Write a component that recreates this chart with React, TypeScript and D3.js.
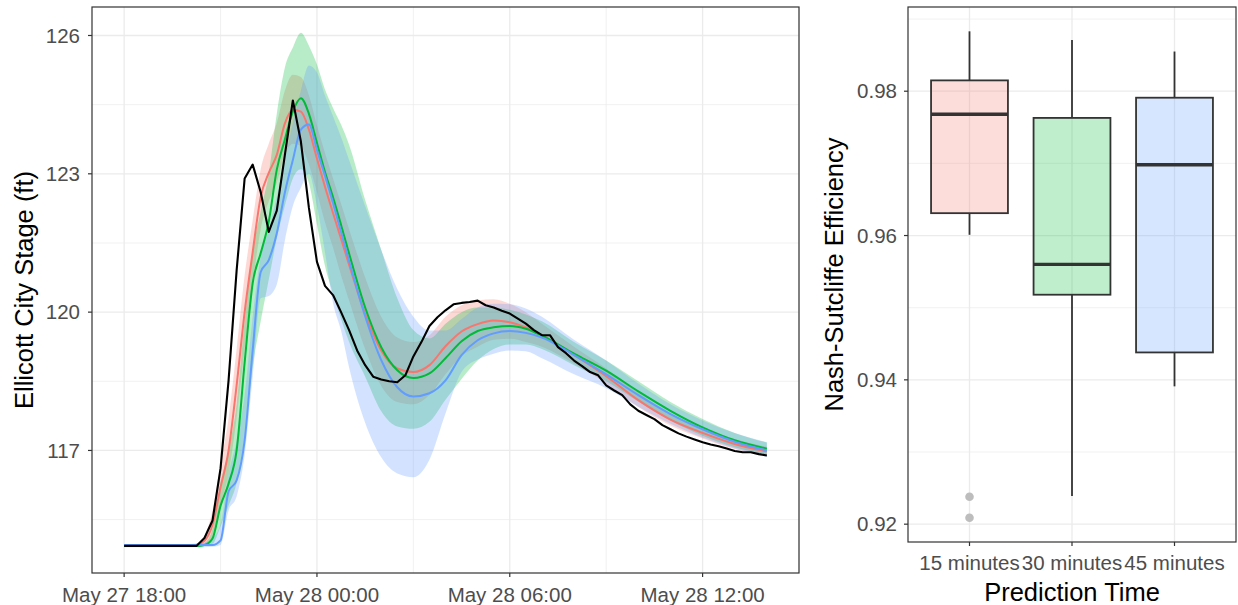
import React from "react";
import * as d3 from "d3";

// hours after May 27 18:00
const start = new Date(2018, 4, 27, 18, 0);
const toDate = (h: number) => new Date(start.getTime() + h * 3600000);

const obsHours = d3.range(0, 20.001, 0.25);
const observed = [
  114.93, 114.93, 114.93, 114.93, 114.93, 114.93, 114.93, 114.93, 114.93, 114.93,
  115.1, 115.48, 116.61, 118.52, 120.9, 122.9, 123.2, 122.6, 121.74, 122.2,
  123.4, 124.59, 123.7, 122.26, 121.09, 120.57, 120.37, 120.0, 119.61, 119.17,
  118.85, 118.6, 118.54, 118.5, 118.48, 118.63, 119.04, 119.35, 119.7, 119.89,
  120.04, 120.17, 120.2, 120.22, 120.25, 120.15, 120.1, 120.03, 119.97, 119.86,
  119.75, 119.61, 119.5, 119.5, 119.24, 119.11, 118.95, 118.83, 118.7, 118.63,
  118.41, 118.3, 118.2, 118.0, 117.86, 117.77, 117.68, 117.55, 117.46, 117.37,
  117.3, 117.24, 117.18, 117.13, 117.09, 117.04, 116.99, 116.96, 116.96, 116.92,
  116.89,
];

const modelHours = [
  0, 2, 2.25, 2.5, 2.75, 3, 3.25, 3.5, 3.75, 4, 4.25, 4.5, 4.75, 5, 5.25, 5.5, 5.75,
  6, 6.25, 6.5, 6.75, 7, 7.5, 8, 8.5, 9, 9.5, 10, 10.5, 11, 11.5, 12, 12.5, 13,
  14, 15, 16, 17, 18, 19, 20,
];

const pred15 = [
  114.93, 114.93, 114.95, 115.04, 115.39, 116.2, 117.0, 118.41, 120.0, 121.3, 122.5,
  123.02, 123.41, 124.09, 124.39, 124.35, 123.96, 123.33, 122.72, 122.15, 121.59,
  121.03, 119.96, 119.17, 118.78, 118.7, 118.85, 119.26, 119.58, 119.74, 119.82,
  119.78, 119.67, 119.5, 119.07, 118.61, 118.09, 117.67, 117.38, 117.14, 116.98,
];
const pred15Hi = [
  114.95, 114.95, 114.98, 115.15, 115.7, 116.7, 117.7, 119.2, 120.8, 122.0, 123.1,
  123.65, 124.1, 124.8, 125.15, 125.1, 124.7, 124.05, 123.45, 122.9, 122.35, 121.8,
  120.75, 119.9, 119.45, 119.35, 119.5, 119.9, 120.15, 120.25, 120.28, 120.18, 120.0,
  119.75, 119.25, 118.78, 118.25, 117.8, 117.5, 117.25, 117.08,
];
const pred15Lo = [
  114.91, 114.91, 114.92, 114.95, 115.1, 115.8, 116.5, 117.7, 119.2, 120.6, 121.8,
  122.4, 122.8, 123.4, 123.65, 123.6, 123.2, 122.6, 121.95, 121.4, 120.8, 120.25,
  119.2, 118.4, 118.05, 118.0, 118.2, 118.65, 119.05, 119.25, 119.4, 119.42, 119.35,
  119.25, 118.88, 118.45, 117.94, 117.54, 117.26, 117.03, 116.88,
];

const pred30 = [
  114.93, 114.93, 114.93, 114.95, 115.09, 115.8, 116.28, 117.0, 118.91, 120.63, 121.28,
  121.96, 123.09, 123.74, 124.35, 124.64, 124.3, 123.67, 123.04, 122.49, 121.89,
  121.27, 120.1, 119.24, 118.74, 118.57, 118.67, 119.0, 119.37, 119.59, 119.67, 119.7,
  119.64, 119.49, 119.1, 118.73, 118.28, 117.86, 117.5, 117.22, 117.04,
];
const pred30Hi = [
  114.95, 114.95, 114.96, 115.0, 115.3, 116.3, 117.0, 118.0, 119.8, 121.3, 122.2,
  123.0, 124.3, 125.3, 125.74, 126.06, 125.78, 125.37, 124.83, 124.43, 124.07, 123.63,
  122.43, 121.35, 120.3, 119.61, 119.43, 119.75, 120.0, 120.1, 120.1, 120.05, 119.95,
  119.8, 119.35, 118.95, 118.5, 118.05, 117.68, 117.38, 117.17,
];
const pred30Lo = [
  114.91, 114.91, 114.91, 114.93, 114.97, 115.35, 115.8, 116.3, 117.3, 118.8, 119.8,
  120.7, 121.6, 122.3, 122.9, 123.1, 122.8, 121.9, 121.0, 120.4, 119.85, 119.35,
  118.6, 117.85, 117.52, 117.47, 117.62, 118.1, 118.55, 118.95, 119.2, 119.3, 119.3,
  119.2, 118.85, 118.5, 118.06, 117.65, 117.32, 117.07, 116.91,
];

const pred45 = [
  114.95, 114.95, 114.95, 114.95, 114.95, 115.05, 116.11, 116.35, 117.22, 119.17, 120.87,
  121.13, 121.71, 122.59, 123.3, 123.96, 124.07, 123.52, 122.96, 122.37, 121.74,
  121.11, 119.91, 118.96, 118.37, 118.17, 118.24, 118.52, 119.07, 119.39, 119.54,
  119.59, 119.55, 119.45, 119.07, 118.65, 118.2, 117.79, 117.46, 117.19, 117.0,
];
const pred45Hi = [
  114.97, 114.97, 114.98, 115.0, 115.1, 115.4, 116.5, 117.2, 118.2, 119.9, 121.2,
  121.8, 122.5, 123.3, 124.1, 124.8, 125.35, 125.2, 124.7, 124.25, 123.8, 123.3,
  122.3, 121.35, 120.5, 119.9, 119.6, 119.6, 119.85, 120.1, 120.18, 120.17, 120.08,
  119.9, 119.4, 118.95, 118.45, 118.0, 117.65, 117.38, 117.18,
];
const pred45Lo = [
  114.9, 114.9, 114.9, 114.9, 114.91, 114.95, 115.7, 116.0, 116.9, 118.6, 120.3,
  120.35, 120.6, 121.55, 122.3, 122.7, 123.0, 122.3, 121.3, 120.2, 119.6, 118.8,
  117.6, 116.85, 116.5, 116.42, 116.8, 117.8, 118.7, 118.97, 119.1, 119.17, 119.15,
  119.0, 118.65, 118.35, 117.95, 117.58, 117.28, 117.04, 116.86,
];

const stageTicks = [117, 120, 123, 126];
const stageMinor = [115.5, 118.5, 121.5, 124.5];
const timeTicks = [0, 6, 12, 18];
const timeMinor = [3, 9, 15, 21];

// boxplot of Nash-Sutcliffe efficiency
const predTimes = ["15 minutes", "30 minutes", "45 minutes"];
const whiskerLow = [0.9601, 0.9239, 0.9391];
const q1 = [0.9631, 0.9518, 0.9438];
const medians = [0.9768, 0.956, 0.9698];
const q3 = [0.9815, 0.9763, 0.9791];
const whiskerHigh = [0.9883, 0.9871, 0.9855];
const outliers = [[0.9238, 0.9209], [], []];
const nseTicks = [0.92, 0.94, 0.96, 0.98];
const nseMinor = [0.93, 0.95, 0.97, 0.99];

const colors = ["#F8766D", "#00BA38", "#619CFF"];
const FONT = "'Liberation Sans', Arial, sans-serif";

export default function App() {
  const W = 1238;
  const H = 605;
  const L = { x0: 92, x1: 799, y0: 7, y1: 573 };
  const R = { x0: 908, x1: 1236, y0: 7, y1: 542 };

  const x = d3.scaleTime().domain([toDate(-1), toDate(21)]).range([L.x0, L.x1]);
  const allY = [...observed, ...pred15Lo, ...pred30Hi, ...pred30Lo, ...pred45Lo, ...pred45Hi, ...pred15Hi];
  const [ymin, ymax] = d3.extent(allY) as [number, number];
  const ypad = (ymax - ymin) * 0.05;
  const y = d3.scaleLinear().domain([ymin - ypad, ymax + ypad]).range([L.y1, L.y0]);
  const fmtTime = d3.timeFormat("%b %d %H:%M");

  const models = [
    { mid: pred15, lo: pred15Lo, hi: pred15Hi, color: colors[0] },
    { mid: pred30, lo: pred30Lo, hi: pred30Hi, color: colors[1] },
    { mid: pred45, lo: pred45Lo, hi: pred45Hi, color: colors[2] },
  ];

  const area = d3
    .area<number>()
    .x((i) => x(toDate(modelHours[i])))
    .curve(d3.curveMonotoneX);
  const modelLine = d3
    .line<number>()
    .x((i) => x(toDate(modelHours[i])))
    .curve(d3.curveMonotoneX);
  const obsLine = d3
    .line<number>()
    .x((_, i) => x(toDate(obsHours[i])))
    .y((d) => y(d));
  const idx = modelHours.map((_, i) => i);

  // right panel
  const nseAll = [...whiskerLow, ...whiskerHigh, ...outliers.flat()];
  const [nmin, nmax] = d3.extent(nseAll) as [number, number];
  const npad = (nmax - nmin) * 0.05;
  const ny = d3.scaleLinear().domain([nmin - npad, nmax + npad]).range([R.y1, R.y0]);
  const bx = d3.scalePoint().domain(predTimes).range([R.x0, R.x1]).padding(0.6);
  const boxW = bx.step() * 0.75;

  const grid = "#EBEBEB";

  return (
    <svg width={W} height={H} style={{ position: "absolute", left: 0, top: 0, background: "#fff" }}>
      {/* left panel */}
      <rect x={L.x0} y={L.y0} width={L.x1 - L.x0} height={L.y1 - L.y0} fill="#fff" />
      {stageMinor.map((v) => (
        <line key={"ym" + v} x1={L.x0} x2={L.x1} y1={y(v)} y2={y(v)} stroke={grid} strokeWidth={0.7} />
      ))}
      {timeMinor.map((h) => (
        <line key={"xm" + h} x1={x(toDate(h))} x2={x(toDate(h))} y1={L.y0} y2={L.y1} stroke={grid} strokeWidth={0.7} />
      ))}
      {stageTicks.map((v) => (
        <line key={"yM" + v} x1={L.x0} x2={L.x1} y1={y(v)} y2={y(v)} stroke={grid} strokeWidth={1.3} />
      ))}
      {timeTicks.map((h) => (
        <line key={"xM" + h} x1={x(toDate(h))} x2={x(toDate(h))} y1={L.y0} y2={L.y1} stroke={grid} strokeWidth={1.3} />
      ))}
      {models.map((m, k) => (
        <path
          key={"rib" + k}
          d={area.y0((i) => y(m.lo[i])).y1((i) => y(m.hi[i]))(idx) || ""}
          fill={m.color}
          fillOpacity={0.28}
        />
      ))}
      {models.map((m, k) => (
        <path
          key={"ln" + k}
          d={modelLine.y((i) => y(m.mid[i]))(idx) || ""}
          fill="none"
          stroke={m.color}
          strokeWidth={2}
        />
      ))}
      <path d={obsLine(observed) || ""} fill="none" stroke="#000" strokeWidth={2.1} strokeLinejoin="round" />
      <rect x={L.x0} y={L.y0} width={L.x1 - L.x0} height={L.y1 - L.y0} fill="none" stroke="#333" strokeWidth={1.2} />
      {stageTicks.map((v) => (
        <g key={"yt" + v}>
          <line x1={L.x0 - 4} x2={L.x0} y1={y(v)} y2={y(v)} stroke="#333" strokeWidth={1.2} />
          <text x={L.x0 - 12} y={y(v)} dy="0.35em" textAnchor="end" fontSize={20.5} fill="#4D4D4D" fontFamily={FONT}>
            {v}
          </text>
        </g>
      ))}
      {timeTicks.map((h) => (
        <g key={"xt" + h}>
          <line x1={x(toDate(h))} x2={x(toDate(h))} y1={L.y1} y2={L.y1 + 4} stroke="#333" strokeWidth={1.2} />
          <text x={x(toDate(h))} y={602} textAnchor="middle" fontSize={20.5} fill="#4D4D4D" fontFamily={FONT}>
            {fmtTime(toDate(h))}
          </text>
        </g>
      ))}
      <text
        transform={`translate(33,${(L.y0 + L.y1) / 2}) rotate(-90)`}
        textAnchor="middle"
        fontSize={25.5}
        fill="#000"
        fontFamily={FONT}
      >
        Ellicott City Stage (ft)
      </text>

      {/* right panel */}
      <rect x={R.x0} y={R.y0} width={R.x1 - R.x0} height={R.y1 - R.y0} fill="#fff" />
      {nseMinor.map((v) => (
        <line key={"nm" + v} x1={R.x0} x2={R.x1} y1={ny(v)} y2={ny(v)} stroke={grid} strokeWidth={0.7} />
      ))}
      {nseTicks.map((v) => (
        <line key={"nM" + v} x1={R.x0} x2={R.x1} y1={ny(v)} y2={ny(v)} stroke={grid} strokeWidth={1.3} />
      ))}
      {predTimes.map((c) => (
        <line key={"cg" + c} x1={bx(c)} x2={bx(c)} y1={R.y0} y2={R.y1} stroke={grid} strokeWidth={1.3} />
      ))}
      {predTimes.map((c, i) => {
        const cx = bx(c) as number;
        return (
          <g key={"box" + c}>
            <line x1={cx} x2={cx} y1={ny(whiskerHigh[i])} y2={ny(q3[i])} stroke="#333" strokeWidth={1.8} />
            <line x1={cx} x2={cx} y1={ny(q1[i])} y2={ny(whiskerLow[i])} stroke="#333" strokeWidth={1.8} />
            <rect
              x={cx - boxW / 2}
              y={ny(q3[i])}
              width={boxW}
              height={ny(q1[i]) - ny(q3[i])}
              fill={colors[i]}
              fillOpacity={0.25}
              stroke="#333"
              strokeWidth={1.8}
            />
            <line x1={cx - boxW / 2} x2={cx + boxW / 2} y1={ny(medians[i])} y2={ny(medians[i])} stroke="#333" strokeWidth={3.4} />
            {outliers[i].map((o, j) => (
              <circle key={j} cx={cx} cy={ny(o)} r={4.3} fill="#BDBDBD" />
            ))}
          </g>
        );
      })}
      <rect x={R.x0} y={R.y0} width={R.x1 - R.x0} height={R.y1 - R.y0} fill="none" stroke="#333" strokeWidth={1.2} />
      {nseTicks.map((v) => (
        <g key={"nt" + v}>
          <line x1={R.x0 - 4} x2={R.x0} y1={ny(v)} y2={ny(v)} stroke="#333" strokeWidth={1.2} />
          <text x={R.x0 - 11} y={ny(v)} dy="0.35em" textAnchor="end" fontSize={20.5} fill="#4D4D4D" fontFamily={FONT}>
            {d3.format(".2f")(v)}
          </text>
        </g>
      ))}
      {predTimes.map((c) => (
        <g key={"ct" + c}>
          <line x1={bx(c)} x2={bx(c)} y1={R.y1} y2={R.y1 + 4} stroke="#333" strokeWidth={1.2} />
          <text x={bx(c)} y={570} textAnchor="middle" fontSize={20.5} fill="#4D4D4D" fontFamily={FONT}>
            {c}
          </text>
        </g>
      ))}
      <text x={(R.x0 + R.x1) / 2} y={601} textAnchor="middle" fontSize={25.5} fill="#000" fontFamily={FONT}>
        Prediction Time
      </text>
      <text
        transform={`translate(843,${(R.y0 + R.y1) / 2}) rotate(-90)`}
        textAnchor="middle"
        fontSize={25.5}
        fill="#000"
        fontFamily={FONT}
      >
        Nash-Sutcliffe Efficiency
      </text>
    </svg>
  );
}
